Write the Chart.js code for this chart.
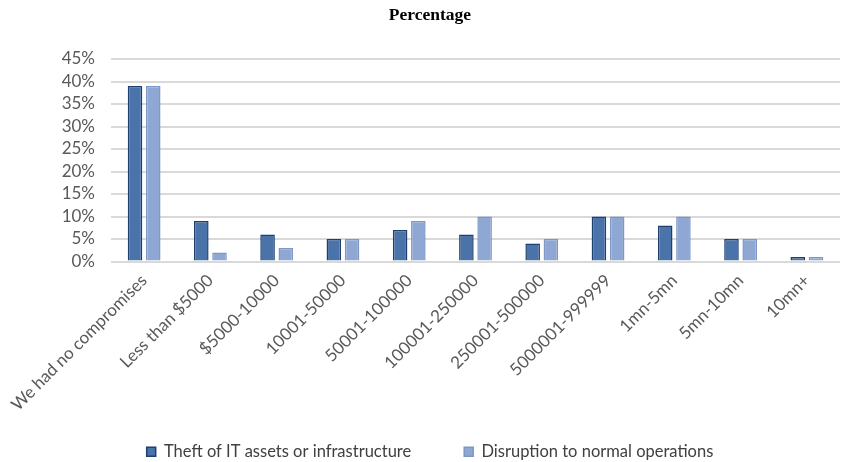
<!DOCTYPE html>
<html>
<head>
<meta charset="utf-8">
<script src="https://cdn.jsdelivr.net/npm/chart.js@4"></script>
<style>
  html, body { margin: 0; padding: 0; background: #ffffff; }
  #wrap { width: 841px; height: 462px; position: relative; }
</style>
</head>
<body>
<div id="wrap"><canvas id="chart" width="841" height="462"></canvas></div>
<script>
const categories = [
  'We had no compromises', 'Less than $5000', '$5000-10000', '10001-50000',
  '50001-100000', '100001-250000', '250001-500000', '5000001-999999',
  '1mn-5mn', '5mn-10mn', '10mn+'
];
const theftValues = [39, 9, 6, 5, 7, 6, 4, 10, 8, 5, 1];
const disruptionValues = [39, 2, 3, 5, 9, 10, 5, 10, 10, 5, 1];
const yTicks = [0, 5, 10, 15, 20, 25, 30, 35, 40, 45];

const sans = 'Lato, "Open Sans", sans-serif';

// Long rotated category names run below the axis box; let them draw in full.
const unclipXLabels = {
  id: 'unclipXLabels',
  afterLayout(chart) {
    chart.scales.x.bottom = chart.height;
  }
};

new Chart(document.getElementById('chart'), {
  type: 'bar',
  data: {
    labels: categories,
    datasets: [
      {
        label: 'Theft of IT assets or infrastructure',
        data: theftValues,
        backgroundColor: '#4a73a9',
        borderColor: '#1f3f6f',
        borderWidth: 1.5,
        categoryPercentage: 0.55,
        barPercentage: 0.8
      },
      {
        label: 'Disruption to normal operations',
        data: disruptionValues,
        backgroundColor: '#8fa8d3',
        borderColor: '#7d97c6',
        borderWidth: 1.5,
        categoryPercentage: 0.55,
        barPercentage: 0.8
      }
    ]
  },
  plugins: [unclipXLabels],
  options: {
    responsive: false,
    animation: false,
    layout: { padding: { left: 20, right: 1, top: 0, bottom: -8 } },
    plugins: {
      title: {
        display: true,
        text: 'Percentage',
        color: '#000000',
        font: { family: '"Liberation Serif", "Times New Roman", serif', size: 17.5, weight: 'bold' },
        padding: { top: 5, bottom: 33 }
      },
      legend: {
        position: 'bottom',
        labels: {
          color: '#404040',
          font: { family: sans, size: 16.5 },
          boxWidth: 9,
          boxHeight: 9,
          padding: 53
        }
      },
      tooltip: { enabled: false }
    },
    scales: {
      x: {
        grid: { display: false },
        border: { display: false },
        afterFit: (scale) => {
          scale.height = 129;
          scale.paddingLeft = 0;
          scale.paddingRight = 0;
        },
        ticks: {
          color: '#595959',
          font: { family: sans, size: 17 },
          minRotation: 45,
          maxRotation: 45,
          autoSkip: false,
          padding: 1
        }
      },
      y: {
        min: 0,
        max: 45,
        afterBuildTicks: (scale) => { scale.ticks = yTicks.map(v => ({ value: v })); },
        afterFit: (scale) => { scale.width = 91; },
        grid: { color: '#d9d9d9', lineWidth: 2, drawTicks: false },
        border: { display: false },
        ticks: {
          color: '#595959',
          font: { family: sans, size: 17 },
          autoSkip: false,
          padding: 16,
          callback: (v) => v + '%'
        }
      }
    }
  }
});
</script>
</body>
</html>
